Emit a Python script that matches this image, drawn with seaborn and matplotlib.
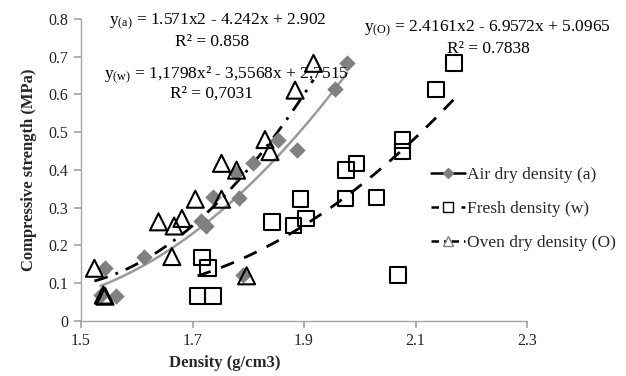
import numpy as np
import pandas as pd
import matplotlib
matplotlib.use("Agg")
import matplotlib.pyplot as plt
from matplotlib.lines import Line2D
import seaborn as sns

# ---- data ----
air_density = [1.535, 1.543, 1.563, 1.613, 1.715, 1.725, 1.737, 1.784, 1.778,
               1.809, 1.854, 1.887, 1.956, 1.977, 1.790]
air_strength = [0.067, 0.139, 0.066, 0.168, 0.265, 0.250, 0.328, 0.326, 0.392,
                0.417, 0.480, 0.452, 0.613, 0.683, 0.121]

fresh_density = [1.717, 1.728, 1.709, 1.737, 1.843, 1.881, 1.904, 1.894, 1.974,
                 2.030, 1.975, 1.994, 2.077, 2.077, 2.137, 2.169, 2.069]
fresh_strength = [0.168, 0.140, 0.066, 0.065, 0.261, 0.252, 0.271, 0.322, 0.324,
                  0.327, 0.399, 0.417, 0.448, 0.479, 0.613, 0.683, 0.121]

oven_density = [1.524, 1.540, 1.543, 1.639, 1.663, 1.667, 1.681, 1.705, 1.752,
                1.752, 1.779, 1.830, 1.839, 1.884, 1.917, 1.797]
oven_strength = [0.139, 0.068, 0.065, 0.262, 0.170, 0.251, 0.271, 0.322, 0.322,
                 0.417, 0.399, 0.480, 0.448, 0.611, 0.682, 0.119]

# polynomial trendline coefficients (as labelled on the chart)
air_coef = [1.571, -4.242, 2.902]
fresh_coef = [1.1798, -3.5568, 2.7515]
oven_coef = [2.4161, -6.9572, 5.0965]

x_ticks = [1.5, 1.7, 1.9, 2.1, 2.3]
y_ticks = [0, 0.1, 0.2, 0.3, 0.4, 0.5, 0.6, 0.7, 0.8]
y_tick_labels = ["0", "0.1", "0.2", "0.3", "0.4", "0.5", "0.6", "0.7", "0.8"]

sns.set_theme(style="white")
plt.rcParams["font.family"] = ["Liberation Serif", "DejaVu Serif"]
plt.rcParams["mathtext.fontset"] = "custom"
plt.rcParams["mathtext.rm"] = "Liberation Serif"
plt.rcParams["mathtext.it"] = "Liberation Serif:italic"

fig = plt.figure(figsize=(6.26, 3.76), dpi=100)
ax = fig.add_axes([0.1294, 0.147, 0.8419 - 0.1294, 0.950 - 0.147])

def trend(xs, coef):
    g = np.linspace(min(xs), max(xs), 100)
    return pd.DataFrame({"x": g, "y": np.polyval(coef, g)})

ta = trend(air_density, air_coef)
tf = trend(fresh_density, fresh_coef)
to = trend(oven_density, oven_coef)

sns.lineplot(data=ta, x="x", y="y", ax=ax, color="#9a9a9a", lw=1.8, zorder=2)
sns.lineplot(data=tf, x="x", y="y", ax=ax, color="black", lw=2.0,
             dashes=False, zorder=2).lines[-1].set_dashes([5, 4])
l_o = sns.lineplot(data=to, x="x", y="y", ax=ax, color="black", lw=2.0, zorder=2).lines[-1]
l_o.set_dashes([5, 3, 1, 3])

sns.scatterplot(x=air_density, y=air_strength, ax=ax, marker="D", s=70,
                color="#808080", edgecolor="#808080", linewidth=0, zorder=3)
sns.scatterplot(x=fresh_density, y=fresh_strength, ax=ax, marker="s", s=125,
                facecolor="none", edgecolor="black", linewidth=1.5, zorder=3)
sns.scatterplot(x=oven_density, y=oven_strength, ax=ax, marker="^", s=150,
                facecolor="none", edgecolor="black", linewidth=1.5, zorder=4)

ax.set_xlim(1.5, 2.3)
ax.set_ylim(0, 0.8)
ax.set_xticks(x_ticks)
ax.set_xticklabels([str(t) for t in x_ticks])
ax.set_yticks(y_ticks)
ax.set_yticklabels(y_tick_labels)
for s in ["top", "right"]:
    ax.spines[s].set_visible(False)
for s in ["left", "bottom"]:
    ax.spines[s].set_color("#a6a6a6")
    ax.spines[s].set_linewidth(1.0)
ax.tick_params(axis="both", which="major", direction="out", length=5,
               color="#a6a6a6", labelsize=11.5, labelcolor="#222222", pad=4,
               bottom=True, left=True)

ax.set_xlabel("Density (g/cm3)", fontsize=12, fontweight="bold")
ax.set_ylabel("Compressive strength (MPa)", fontsize=12, fontweight="bold")
ax.xaxis.set_label_coords(0.323, -0.115)
ax.yaxis.set_label_coords(-0.098, 0.5)

tk = dict(transform=fig.transFigure, ha="center", va="center", fontsize=12.5, color="black")
def fx(px):
    return px / 626
def fy(py):
    return 1 - py / 376

fig.text(fx(218), fy(22), r"y$_{\mathrm{(a)}}$ = 1.571x2 - 4.242x + 2.902", **tk)
fig.text(fx(212), fy(42), "R² = 0.858", **tk)
fig.text(fx(226), fy(75), r"y$_{\mathrm{(w)}}$ = 1,1798x² - 3,5568x + 2,7515", **tk)
fig.text(fx(212), fy(94), "R² = 0,7031", **tk)
fig.text(fx(487), fy(29), r"y$_{\mathrm{(O)}}$ = 2.4161x2 - 6.9572x + 5.0965", **tk)
fig.text(fx(488), fy(49), "R² = 0.7838", **tk)

handles = [
    Line2D([], [], color="black", lw=1.8, marker="D", markersize=5,
           markerfacecolor="#808080", markeredgecolor="#808080", markevery=[1]),
    Line2D([], [], color="black", lw=1.8, ls=(0, (3, 3)), marker="s", markersize=7,
           markerfacecolor="white", markeredgecolor="black", markevery=[1]),
    Line2D([], [], color="black", lw=1.8, ls=(0, (3, 2, 1, 2)), marker="^", markersize=7,
           markerfacecolor="white", markeredgecolor="#808080", markevery=[1]),
]
labels = ["Air dry density (a)", "Fresh density (w)", "Oven dry density (O)"]
leg = fig.legend(handles, labels, loc="center left", bbox_to_anchor=(fx(422), fy(209)),
                 frameon=False, fontsize=12.5, handlelength=2.0, handletextpad=0.1,
                 labelspacing=1.05, borderpad=0)

fig.savefig("out.png", dpi=100)
